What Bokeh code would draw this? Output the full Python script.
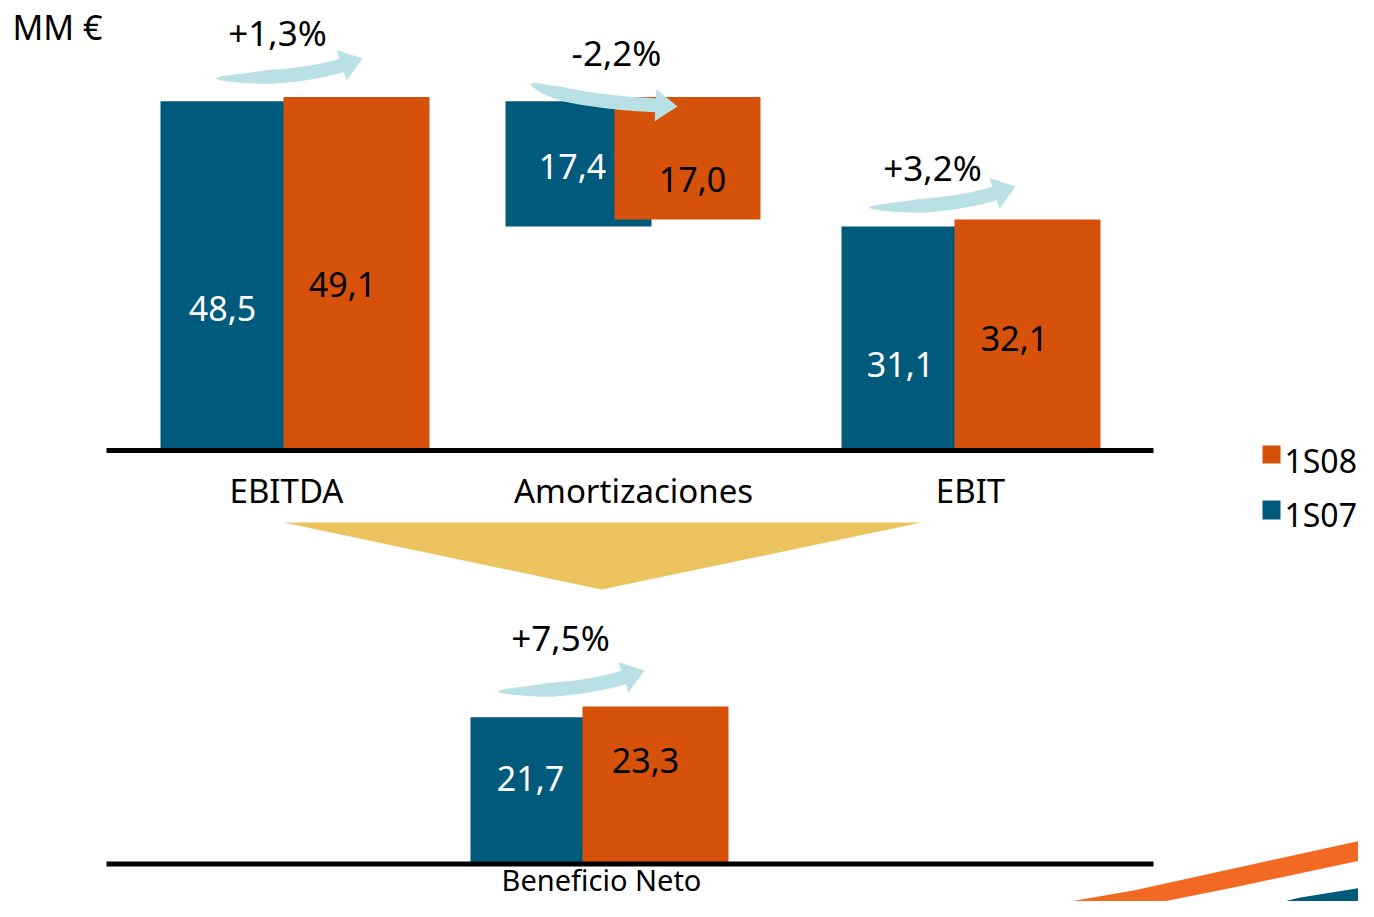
import numpy as np
from bokeh.plotting import figure
from bokeh.models import Range1d
from bokeh.core.properties import value
from bokeh.embed import file_html
from bokeh.resources import INLINE

# ---------------- data ----------------
categories = ["EBITDA", "Amortizaciones", "EBIT"]
values_1s07 = [48.5, 17.4, 31.1]
values_1s08 = [49.1, 17.0, 32.1]
change_labels = ["+1,3%", "-2,2%", "+3,2%"]
net_category = ["Beneficio Neto"]
net_1s07 = [21.7]
net_1s08 = [23.3]
net_change_labels = ["+7,5%"]
series_names = ["1S08", "1S07"]
unit_label = "MM €"

# ---------------- layout / style ----------------
W, H = 1358, 901
OX, OY = 0, 0
BLUE = "#005A7C"
ORANGE = "#D6520A"
ARROW = "#B9E0E4"
GOLD = "#EBC35F"
SWOOSH_OR = "#F26A22"
FONT = "Noto Sans"

TOP_BASE_Y, TOP_K = 450.0, 7.2      # px of zero line, px per unit
LOW_BASE_Y, LOW_K = 863.5, 6.76

p = figure(width=W, height=H, output_backend="svg", toolbar_location=None,
           x_range=Range1d(OX, OX + W),
           y_range=Range1d((TOP_BASE_Y - (OY + H)) / TOP_K, (TOP_BASE_Y - OY) / TOP_K),
           x_axis_location=None, y_axis_location=None, min_border=0,
           outline_line_color=None, background_fill_color="white",
           border_fill_color="white")
p.extra_y_ranges = {
    "px": Range1d(OY + H, OY),
    "low": Range1d((LOW_BASE_Y - (OY + H)) / LOW_K, (LOW_BASE_Y - OY) / LOW_K),
}
p.grid.visible = False

BAR_W = 146
blue_left = [160, 505, 841]
orange_left = [283, 614, 954]
net_blue_left = [470]
net_orange_left = [582]


def fmt(v):
    return f"{v:.1f}".replace(".", ",")


# waterfall: totals from zero, decrease hangs from the previous total
def tops_bottoms(vals):
    tops = [vals[0], vals[0], vals[2]]
    bottoms = [0, vals[0] - vals[1], 0]
    return tops, bottoms


t07, b07 = tops_bottoms(values_1s07)
t08, b08 = tops_bottoms(values_1s08)

p.vbar(x=[l + BAR_W / 2 for l in blue_left], width=BAR_W, top=t07, bottom=b07,
       fill_color=BLUE, line_color=None)
p.vbar(x=[l + BAR_W / 2 for l in orange_left], width=BAR_W, top=t08, bottom=b08,
       fill_color=ORANGE, line_color=None)
p.vbar(x=[l + BAR_W / 2 for l in net_blue_left], width=BAR_W, top=net_1s07, bottom=0,
       fill_color=BLUE, line_color=None, y_range_name="low")
p.vbar(x=[l + BAR_W / 2 for l in net_orange_left], width=BAR_W, top=net_1s08, bottom=0,
       fill_color=ORANGE, line_color=None, y_range_name="low")

# baselines
p.line(x=[106, 1153], y=[450, 450], y_range_name="px", line_width=5, line_color="black")
p.line(x=[106, 1153], y=[863.5, 863.5], y_range_name="px", line_width=5, line_color="black")

# gold funnel triangle
p.patch(x=[283, 921, 601], y=[522, 522, 589], y_range_name="px",
        fill_color=GOLD, line_color=None)


# curved arrows
def arrow(tail, tip, a0, a1, head_len=22, head_hw=16, body_hw=7):
    T = np.array(tail, float)
    P = np.array(tip, float)
    d0 = np.array([np.cos(np.radians(a0)), np.sin(np.radians(a0))])
    d1 = np.array([np.cos(np.radians(a1)), np.sin(np.radians(a1))])
    Hb = P - head_len * d1
    A = np.column_stack([d0, d1])
    s, u = np.linalg.solve(A, Hb - T)
    C = T + s * d0
    ts = np.linspace(0, 1, 40)
    pts = ((1 - ts) ** 2)[:, None] * T + (2 * ts * (1 - ts))[:, None] * C + (ts ** 2)[:, None] * Hb
    tan = (2 * (1 - ts))[:, None] * (C - T) + (2 * ts)[:, None] * (Hb - C)
    tan /= np.linalg.norm(tan, axis=1)[:, None]
    nrm = np.column_stack([tan[:, 1], -tan[:, 0]])
    hw = body_hw * np.minimum(1, ts / 0.35) ** 0.55
    upper = pts + nrm * hw[:, None]
    lower = pts - nrm * hw[:, None]
    n1 = np.array([d1[1], -d1[0]])
    head = [Hb + n1 * head_hw, P, Hb - n1 * head_hw]
    poly = np.vstack([upper, head, lower[::-1]])
    p.patch(x=list(poly[:, 0]), y=list(poly[:, 1]), y_range_name="px",
            fill_color=ARROW, line_color=None)


arrow((215, 78), (362, 58), 0, -18)
arrow((530, 83), (677, 106), 25, 3)
arrow((868, 207), (1015, 186), 0, -18)
arrow((497, 691), (644, 670), 0, -18)

# decorative swoosh bottom-right
p.patch(x=[977, 1133, 1233, 1374, 1374, 1233, 1133, 1050],
        y=[917, 890, 868, 837, 857, 887, 907, 917], y_range_name="px",
        fill_color=SWOOSH_OR, line_color=None)
p.patch(x=[1217, 1300, 1374, 1374],
        y=[917, 897, 885, 917], y_range_name="px",
        fill_color=BLUE, line_color=None)


def label(x, cy, text, size, color="black", align="center", style="normal"):
    p.text(x=[x], y=[cy - 1], text=[text], y_range_name="px",
           text_font=value(FONT), text_font_size=f"{size}px", text_color=color,
           text_align=align, text_baseline="alphabetic", text_font_style=style)


label(12, 27, unit_label, 34, align="left")

# change labels
for (cx, cy), t in zip([(277, 33), (616, 53), (932, 168)], change_labels):
    label(cx, cy, t, 35)
label(560, 638, net_change_labels[0], 35)

# category labels
for cx, c in zip([286, 633, 970], categories):
    label(cx, 491, c, 33)
label(601, 880, net_category[0], 29)

# value labels
for (cx, cy), v in zip([(222, 309), (572, 167), (900, 365)], values_1s07):
    label(cx, cy, fmt(v), 34, color="white")
for (cx, cy), v in zip([(342, 285), (692, 180), (1014, 339)], values_1s08):
    label(cx, cy, fmt(v), 34)
label(530, 779, fmt(net_1s07[0]), 34, color="white")
label(645, 761, fmt(net_1s08[0]), 34)

# legend
p.quad(left=[1262, 1262], right=[1280, 1280], top=[445, 500], bottom=[463, 519],
       y_range_name="px", fill_color=[ORANGE, BLUE], line_color=None)
label(1284, 461, series_names[0], 32, align="left")
label(1284, 515, series_names[1], 32, align="left")

open("out.html", "w").write(file_html(p, INLINE))
